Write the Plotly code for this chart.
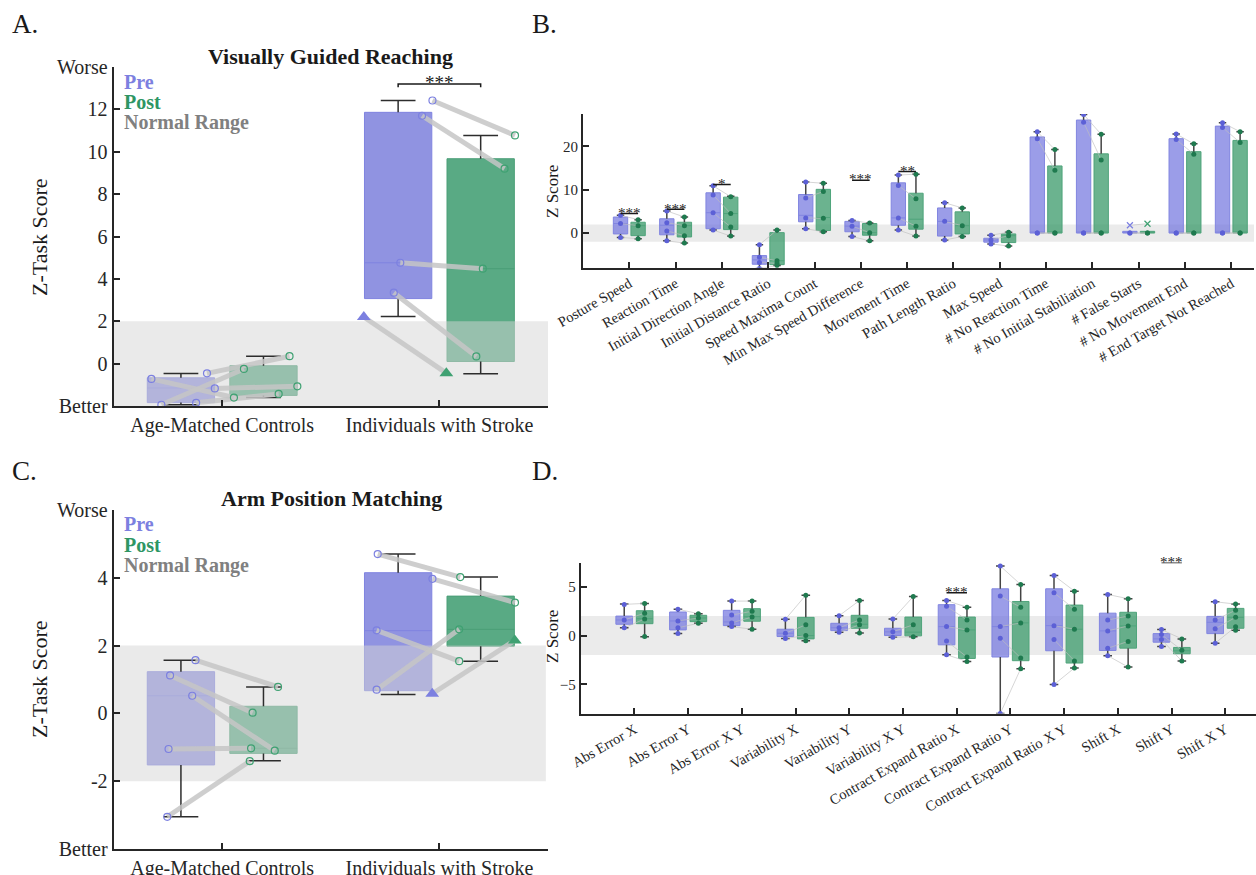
import plotly.graph_objects as go

FONT = "Liberation Serif, Times New Roman, serif"
W, H = 1256, 875

# ---------------- Panel A: Visually Guided Reaching ----------------
groups = ["Age-Matched Controls", "Individuals with Stroke"]
# box statistics per group: [lower whisker, q1, median, q3, upper whisker]
vgr_pre_stats = [[-1.94, -1.84, -1.15, -0.67, -0.47], [2.23, 3.07, 4.76, 11.86, 12.42]]
vgr_post_stats = [[-1.60, -1.50, -1.07, -0.10, 0.35], [-0.48, 0.10, 4.48, 9.67, 10.77]]
# individual participants (pre -> post), with horizontal jitter
vgr_ctrl_jitter = [-0.136, 0.12, 0.156, -0.09, 0.07]
vgr_ctrl_pre = [-0.72, -0.46, -1.17, -1.94, -1.85]
vgr_ctrl_post = [-1.60, 0.35, -1.07, -0.25, -1.43]
vgr_stroke_jitter = [0.158, 0.11, 0.01, -0.02, -0.158]
vgr_stroke_pre = [12.42, 11.70, 4.76, 3.35, 2.20]
vgr_stroke_post = [10.77, 9.20, 4.48, 0.34, -0.45]
vgr_stroke_flag = [False, False, False, False, True]
vgr_ticks = [-2, 0, 2, 4, 6, 8, 10, 12, 14]
vgr_ticktext = ["Better", "0", "2", "4", "6", "8", "10", "12", "Worse"]

# ---------------- Panel C: Arm Position Matching ----------------
apm_pre_stats = [[-3.05, -1.52, 0.52, 1.23, 1.57], [0.56, 0.67, 2.44, 4.15, 4.70]]
apm_post_stats = [[-1.40, -1.18, -1.03, 0.21, 0.78], [1.54, 1.98, 2.48, 3.46, 4.02]]
apm_ctrl_jitter = [0.067, -0.05, 0.052, -0.057, -0.063]
apm_ctrl_pre = [1.57, 1.12, 0.52, -1.05, -3.05]
apm_ctrl_post = [0.78, 0.02, -1.10, -1.03, -1.41]
apm_stroke_jitter = [-0.094, 0.158, -0.099, -0.099, 0.157]
apm_stroke_pre = [4.70, 3.97, 2.45, 0.70, 0.58]
apm_stroke_post = [4.02, 3.27, 1.54, 2.48, 2.15]
apm_stroke_flag = [False, False, False, False, True]
apm_ticks = [-4, -2, 0, 2, 4, 6]
apm_ticktext = ["Better", "-2", "0", "2", "4", "Worse"]

# ---------------- Panel B: reaching parameters ----------------
b_labels = ["Posture Speed", "Reaction Time", "Initial Direction Angle", "Initial Distance Ratio",
            "Speed Maxima Count", "Min Max Speed Difference", "Movement Time", "Path Length Ratio",
            "Max Speed", "# No Reaction Time", "# No Initial Stabiliation", "# False Starts",
            "# No Movement End", "# End Target Not Reached"]
b_pre_stats = [[-1.0, -0.2, 2.2, 3.7, 4.1], [-1.8, -0.4, 1.8, 3.3, 5.1], [0.7, 1.0, 4.7, 9.3, 10.9],
               [-8.2, -7.2, -6.2, -5.2, -2.7], [1.0, 2.6, 4.1, 8.9, 11.8], [-0.8, 0.3, 1.6, 2.7, 2.9],
               [0.7, 1.8, 3.5, 11.6, 13.4], [-1.6, -0.7, 2.7, 5.8, 7.0], [-2.5, -2.1, -1.6, -1.2, -0.5],
               [0, 0, 0, 22.2, 23.4], [0, 0, 0, 26.1, 27.4], [0, 0, 0, 0.4, 0.4],
               [0, 0, 0, 21.8, 22.9], [0, 0, 0, 24.7, 25.5]]
b_post_stats = [[-1.3, -0.6, 1.7, 2.5, 3.1], [-2.3, -0.9, 1.7, 2.5, 3.7], [-0.7, 0.8, 4.5, 8.3, 8.5],
                [-7.5, -7.3, -6.4, 0.1, 0.7], [0.3, 0.6, 3.6, 10.1, 11.5], [-1.8, -0.5, 0.1, 2.2, 2.3],
                [-0.7, 0.9, 3.2, 9.2, 13.6], [-0.8, -0.2, 1.7, 4.9, 5.8], [-3.0, -2.2, -0.6, -0.2, 0.2],
                [0, 0, 0, 15.5, 19.3], [0, 0, 0, 18.3, 22.8], [0, 0, 0, 0.4, 0.4],
                [0, 0, 0, 18.8, 20.6], [0, 0, 0, 21.4, 23.4]]
b_pre_points = [[4.1, 2.2, -1.0], [5.1, 2.4, 0.5, -1.8], [10.9, 8.8, 4.7, 0.7], [-2.7, -5.6, -6.8, -8.2],
                [11.8, 8.1, 3.5, 1.0], [2.9, 1.6, -0.8], [13.4, 11.0, 3.5, 0.7], [7.0, 2.7, -1.6],
                [-0.5, -1.6, -2.5], [23.4, 21.8, 0, 0], [27.4, 25.6, 0, 0], [0, 0],
                [22.9, 21.6, 0, 0], [25.5, 24.4, 0, 0]]
b_post_points = [[3.1, 1.7, -1.3], [3.7, 1.7, -0.6, -2.3], [8.4, 4.5, 1.4, -0.7], [0.7, -6.4, -7.0, -7.5],
                 [11.5, 9.6, 3.4, 0.3], [2.3, 0.1, -1.8], [13.6, 7.9, 1.6, -0.7], [5.8, 1.7, -0.8],
                 [0.2, -0.6, -3.0], [19.3, 14.5, 0, 0], [22.8, 16.9, 0, 0], [0, 0],
                 [20.6, 18.2, 0, 0], [23.4, 20.9, 0, 0]]
b_outlier_cat = 12
b_outlier_pre = 1.8
b_outlier_post = 2.15
b_sig_cats = [1, 2, 3, 6, 7]
b_sig_text = ["***", "***", "*", "***", "**"]
b_sig_y = [4.5, 5.5, 11.2, 12.2, 14.2]

# ---------------- Panel D: position matching parameters ----------------
d_labels = ["Abs Error X", "Abs Error Y", "Abs Error X Y", "Variability X", "Variability Y",
            "Variability X Y", "Contract Expand Ratio X", "Contract Expand Ratio Y",
            "Contract Expand Ratio X Y", "Shift X", "Shift Y", "Shift X Y"]
d_pre_stats = [[0.79, 1.16, 1.6, 2.0, 3.23], [0.2, 0.58, 1.5, 2.42, 2.69], [0.92, 1.02, 1.4, 2.59, 3.54],
               [-0.3, -0.1, 0.24, 0.65, 1.67], [0.34, 0.51, 0.8, 1.26, 2.04], [-0.17, 0.0, 0.38, 0.75, 1.7],
               [-1.97, -0.95, 0.92, 3.17, 3.6], [-8.0, -2.2, 0.92, 4.8, 7.14], [-5.03, -1.56, 1.02, 4.8, 6.16],
               [-2.07, -1.53, 0.48, 2.3, 4.22], [-1.12, -0.68, -0.34, 0.2, 0.61], [-0.78, 0.2, 1.36, 1.97, 3.47]]
d_post_stats = [[-0.13, 1.22, 1.73, 2.55, 3.3], [1.26, 1.43, 1.8, 2.08, 2.25], [0.65, 1.47, 1.94, 2.76, 3.54],
                [-0.54, -0.34, 0.0, 1.87, 4.15], [0.27, 0.75, 1.16, 2.08, 3.6], [-0.13, -0.03, 0.35, 1.9, 4.0],
                [-2.65, -2.35, 0.58, 1.9, 2.9], [-3.4, -2.58, 1.3, 3.5, 5.24], [-3.33, -2.82, 0.65, 3.13, 4.56],
                [-3.23, -1.29, 0.99, 2.39, 3.78], [-2.62, -1.87, -1.56, -1.22, -0.34], [0.55, 0.75, 1.87, 2.79, 3.23]]
d_pre_points = [[3.2, 1.6, 0.8], [2.7, 1.5, 0.8, 0.2], [3.54, 2.1, 1.3, 0.92], [1.67, 0.24, -0.3],
                [2.04, 0.8, 0.34], [1.7, 0.4, -0.17], [3.6, 3.0, 0.92, -0.57, -1.97],
                [7.14, 4.05, 0.92, -0.27, -8.0], [6.16, 4.4, 1.02, -0.4, -5.03],
                [4.22, 1.6, 0.48, -1.3, -2.07], [0.61, 0.1, -0.4, -1.12], [3.47, 1.6, 0.7, -0.78]]
d_post_points = [[3.3, 2.3, 1.7, -0.1], [2.25, 1.8, 1.26], [3.54, 2.5, 1.9, 0.65], [4.15, 1.1, 0.0, -0.54],
                 [3.6, 1.6, 1.1, 0.27], [4.0, 1.1, -0.13], [2.9, 1.6, 0.58, -2.2, -2.65],
                 [5.24, 2.9, 1.3, -2.3, -3.4], [4.56, 2.7, 0.65, -2.6, -3.33],
                 [3.78, 2.0, 0.99, -0.6, -3.23], [-0.34, -1.5, -2.62], [3.23, 2.6, 1.87, 0.9, 0.55]]
d_sig_cats = [7, 11]
d_sig_text = ["***", "***"]
d_sig_y = [4.4, 7.5]

# ---------------- styling ----------------
OFFSET = 0.19      # pre / post shift from the category centre
BOX_W = 0.31
CAP = 0.08
AXIS_COLOR = "#262626"
PRE_TXT = "#7C80E0"
POST_TXT = "#2E9664"
AC_PRE_FILL, AC_PRE_EDGE = "rgba(124,128,220,0.85)", "#7F83E0"
AC_POST_FILL, AC_POST_EDGE = "rgba(60,155,110,0.85)", "#4A9E76"
BD_PRE_FILL, BD_PRE_EDGE = "rgba(112,116,222,0.7)", "#8185E0"
BD_POST_FILL, BD_POST_EDGE = "rgba(50,150,100,0.72)", "#4FA47B"

fig = go.Figure()


def add_boxes(ax, positions, stats, fill, edge):
    lo, q1, med, q3, hi = zip(*stats)
    fig.add_trace(go.Box(
        x=list(positions), q1=list(q1), median=list(med), q3=list(q3),
        lowerfence=list(q1), upperfence=list(q3), width=BOX_W, whiskerwidth=0,
        fillcolor=fill, line=dict(color=edge, width=1), boxpoints=False,
        xaxis="x" + ax, yaxis="y" + ax, showlegend=False, hoverinfo="skip"))


def add_whiskers(ax, positions, stats, color, width):
    xs, ys = [], []
    for p, (lo, q1, med, q3, hi) in zip(positions, stats):
        if hi > q3:
            xs += [p, p, None, p - CAP, p + CAP, None]
            ys += [q3, hi, None, hi, hi, None]
        if lo < q1:
            xs += [p, p, None, p - CAP, p + CAP, None]
            ys += [q1, lo, None, lo, lo, None]
    fig.add_trace(go.Scatter(x=xs, y=ys, mode="lines", line=dict(color=color, width=width),
                             xaxis="x" + ax, yaxis="y" + ax, showlegend=False, hoverinfo="skip"))


def add_band(ax, x0, x1):
    fig.add_trace(go.Scatter(x=[x0, x1, x1, x0, x0], y=[-2, -2, 2, 2, -2], mode="lines",
                             fill="toself", fillcolor="rgba(213,213,213,0.5)", line=dict(width=0),
                             xaxis="x" + ax, yaxis="y" + ax, showlegend=False, hoverinfo="skip"))


def add_subjects(ax, cat, jitter, pre, post, flags):
    xp = [cat - OFFSET + j for j in jitter]
    xq = [cat + OFFSET + j for j in jitter]
    lx, ly = [], []
    for a, b, u, v in zip(xp, xq, pre, post):
        lx += [a, b, None]
        ly += [u, v, None]
    fig.add_trace(go.Scatter(x=lx, y=ly, mode="lines", line=dict(color="rgba(198,198,198,0.85)", width=5),
                             xaxis="x" + ax, yaxis="y" + ax, showlegend=False, hoverinfo="skip"))
    for xs, ys, col in ((xp, pre, PRE_TXT), (xq, post, "#3FA172")):
        cx = [x for x, f in zip(xs, flags) if not f]
        cy = [y for y, f in zip(ys, flags) if not f]
        tx = [x for x, f in zip(xs, flags) if f]
        ty = [y for y, f in zip(ys, flags) if f]
        fig.add_trace(go.Scatter(x=cx, y=cy, mode="markers",
                                 marker=dict(symbol="circle-open", size=7, color=col, line=dict(width=1.2)),
                                 xaxis="x" + ax, yaxis="y" + ax, showlegend=False, hoverinfo="skip"))
        if tx:
            fig.add_trace(go.Scatter(x=tx, y=ty, mode="markers",
                                     marker=dict(symbol="triangle-up", size=12, color=col),
                                     xaxis="x" + ax, yaxis="y" + ax, showlegend=False, hoverinfo="skip"))


def add_points(ax, pre_pos, post_pos, pre_pts, post_pts):
    lx, ly = [], []
    for a, b, u, v in zip(pre_pos, post_pos, pre_pts, post_pts):
        for p, q in zip(u, v):
            lx += [a, b, None]
            ly += [p, q, None]
    fig.add_trace(go.Scatter(x=lx, y=ly, mode="lines", line=dict(color="rgba(190,190,190,0.8)", width=0.8),
                             xaxis="x" + ax, yaxis="y" + ax, showlegend=False, hoverinfo="skip"))
    for pos, pts, col in ((pre_pos, pre_pts, "#5C60D6"), (post_pos, post_pts, "#1F7A4F")):
        xs, ys = [], []
        for p, vals in zip(pos, pts):
            xs += [p] * len(vals)
            ys += vals
        fig.add_trace(go.Scatter(x=xs, y=ys, mode="markers", marker=dict(size=5, color=col),
                                 xaxis="x" + ax, yaxis="y" + ax, showlegend=False, hoverinfo="skip"))


annotations = []


def ann(text, px, py, size, color="#1a1a1a", bold=False, xanchor="center", yanchor="middle", angle=0):
    annotations.append(dict(
        text=f"<b>{text}</b>" if bold else text, x=px / W, y=1 - py / H, xref="paper", yref="paper",
        xanchor=xanchor, yanchor=yanchor, showarrow=False, textangle=angle,
        font=dict(family=FONT, size=size, color=color)))


def add_sig(ax, cats, texts, ys, size, ticks):
    for c, t, y in zip(cats, texts, ys):
        a, b = c - OFFSET, c + OFFSET
        if ticks:
            xs, yv = [a, a, b, b], [y - ticks, y, y, y - ticks]
        else:
            xs, yv = [a, b], [y, y]
        fig.add_trace(go.Scatter(x=xs, y=yv, mode="lines", line=dict(color="#1a1a1a", width=1.5),
                                 xaxis="x" + ax, yaxis="y" + ax, showlegend=False, hoverinfo="skip"))
        annotations.append(dict(text=t, x=c, y=y, xref="x" + ax, yref="y" + ax, xanchor="center",
                                yanchor="middle", yshift=size * 0.05, showarrow=False,
                                font=dict(family=FONT, size=size, color="#1a1a1a")))


# ---- Panel A ----
cats2 = [1, 2]
pre2 = [c - OFFSET for c in cats2]
post2 = [c + OFFSET for c in cats2]
add_boxes("", pre2, vgr_pre_stats, AC_PRE_FILL, AC_PRE_EDGE)
add_boxes("", post2, vgr_post_stats, AC_POST_FILL, AC_POST_EDGE)
add_band("", 0.5, 2.5)
add_whiskers("", pre2, vgr_pre_stats, "#2d2d2d", 1.5)
add_whiskers("", post2, vgr_post_stats, "#2d2d2d", 1.5)
add_subjects("", 1, vgr_ctrl_jitter, vgr_ctrl_pre, vgr_ctrl_post, [False] * 5)
add_subjects("", 2, vgr_stroke_jitter, vgr_stroke_pre, vgr_stroke_post, vgr_stroke_flag)
add_sig("", [2], ["***"], [13.2], 19, 0.15)

# ---- Panel C ----
add_boxes("3", pre2, apm_pre_stats, AC_PRE_FILL, AC_PRE_EDGE)
add_boxes("3", post2, apm_post_stats, AC_POST_FILL, AC_POST_EDGE)
add_band("3", 0.5, 2.49)
add_whiskers("3", pre2, apm_pre_stats, "#2d2d2d", 1.5)
add_whiskers("3", post2, apm_post_stats, "#2d2d2d", 1.5)
add_subjects("3", 1, apm_ctrl_jitter, apm_ctrl_pre, apm_ctrl_post, [False] * 5)
add_subjects("3", 2, apm_stroke_jitter, apm_stroke_pre, apm_stroke_post, apm_stroke_flag)

# ---- Panel B ----
cb = list(range(1, len(b_labels) + 1))
b_pre_pos = [c - OFFSET for c in cb]
b_post_pos = [c + OFFSET for c in cb]
add_boxes("2", b_pre_pos, b_pre_stats, BD_PRE_FILL, BD_PRE_EDGE)
add_boxes("2", b_post_pos, b_post_stats, BD_POST_FILL, BD_POST_EDGE)
add_whiskers("2", b_pre_pos, b_pre_stats, "#444444", 1.5)
add_whiskers("2", b_post_pos, b_post_stats, "#444444", 1.5)
add_points("2", b_pre_pos, b_post_pos, b_pre_points, b_post_points)
fig.add_trace(go.Scatter(x=[b_outlier_cat - OFFSET, b_outlier_cat + OFFSET], y=[b_outlier_pre, b_outlier_post],
                         mode="lines", line=dict(color="rgba(190,190,190,0.8)", width=0.8),
                         xaxis="x2", yaxis="y2", showlegend=False, hoverinfo="skip"))
fig.add_trace(go.Scatter(x=[b_outlier_cat - OFFSET, b_outlier_cat + OFFSET], y=[b_outlier_pre, b_outlier_post],
                         mode="markers", marker=dict(symbol="x-thin", size=6, line=dict(width=1.2,
                                                     color=["#7C80E0", "#3FA172"])),
                         xaxis="x2", yaxis="y2", showlegend=False, hoverinfo="skip"))
add_sig("2", b_sig_cats, b_sig_text, b_sig_y, 15, 0)

# ---- Panel D ----
cd = list(range(1, len(d_labels) + 1))
d_pre_pos = [c - OFFSET for c in cd]
d_post_pos = [c + OFFSET for c in cd]
add_boxes("4", d_pre_pos, d_pre_stats, BD_PRE_FILL, BD_PRE_EDGE)
add_boxes("4", d_post_pos, d_post_stats, BD_POST_FILL, BD_POST_EDGE)
add_whiskers("4", d_pre_pos, d_pre_stats, "#444444", 1.5)
add_whiskers("4", d_post_pos, d_post_stats, "#444444", 1.5)
add_points("4", d_pre_pos, d_post_pos, d_pre_points, d_post_points)
add_sig("4", d_sig_cats, d_sig_text, d_sig_y, 15, 0)

# normal range bands beneath the parameter panels
shapes = []
for ax in ("2", "4"):
    shapes.append(dict(type="rect", xref=f"x{ax} domain", yref=f"y{ax}", x0=0, x1=1, y0=-2, y1=2,
                       fillcolor="#EBEBEB", line=dict(width=0), layer="below"))

# ---- text ----
ann("A.", 10, 24, 27, xanchor="left")
ann("B.", 530, 24, 27, xanchor="left")
ann("C.", 10, 471, 27, xanchor="left")
ann("D.", 530, 471, 27, xanchor="left")
ann("Visually Guided Reaching", 330, 56, 22, bold=True)
ann("Arm Position Matching", 331, 498, 22, bold=True)
for yy, lab, col in ((82, "Pre", PRE_TXT), (102.5, "Post", POST_TXT), (122, "Normal Range", "#808080")):
    ann(lab, 122, yy, 20, color=col, bold=True, xanchor="left")
for yy, lab, col in ((524, "Pre", PRE_TXT), (544.5, "Post", POST_TXT), (565, "Normal Range", "#808080")):
    ann(lab, 122, yy, 20, color=col, bold=True, xanchor="left")
ann("Z-Task Score", 39, 237, 22, angle=-90)
ann("Z-Task Score", 39, 679, 22, angle=-90)
ann("Z Score", 552, 192, 17, angle=-90)
ann("Z Score", 552, 637, 17, angle=-90)

axis_common = dict(showline=True, linewidth=2, linecolor=AXIS_COLOR, ticks="inside", tickwidth=1.5,
                   tickcolor=AXIS_COLOR, showgrid=False, zeroline=False, mirror=False, automargin=False)


def dom_x(a, b):
    return [a / W, b / W]


def dom_y(top, bottom):
    return [1 - bottom / H, 1 - top / H]


fig.update_layout(
    width=W, height=H, margin=dict(l=0, r=0, t=0, b=0),
    paper_bgcolor="white", plot_bgcolor="rgba(0,0,0,0)", showlegend=False,
    font=dict(family=FONT, color=AXIS_COLOR),
    boxmode="overlay",
    xaxis=dict(domain=dom_x(113.6, 548), range=[0.5, 2.5], tickvals=cats2, ticktext=groups,
               tickfont=dict(size=20), ticklen=6, anchor="y", **axis_common),
    yaxis=dict(domain=dom_y(67, 406), range=[-2, 14], tickvals=vgr_ticks, ticktext=vgr_ticktext,
               tickfont=dict(size=20), ticklen=6, anchor="x", **axis_common),
    xaxis3=dict(domain=dom_x(113.6, 548), range=[0.5, 2.5], tickvals=cats2, ticktext=groups,
                tickfont=dict(size=20), ticklen=6, anchor="y3", **axis_common),
    yaxis3=dict(domain=dom_y(510, 849), range=[-4, 6], tickvals=apm_ticks, ticktext=apm_ticktext,
                tickfont=dict(size=20), ticklen=6, anchor="x3", **axis_common),
    xaxis2=dict(domain=dom_x(583, 1254), range=[0, 14.49], tickvals=cb, ticktext=b_labels, tickangle=-30,
                tickfont=dict(size=14.5), ticklen=6, anchor="y2", **axis_common),
    yaxis2=dict(domain=dom_y(114, 267.7), range=[-8, 27.5], tickvals=[0, 10, 20],
                tickfont=dict(size=15), ticklen=6, anchor="x2", **axis_common),
    xaxis4=dict(domain=dom_x(580.7, 1256), range=[0, 12.57], tickvals=cd, ticktext=d_labels, tickangle=-30,
                tickfont=dict(size=14.5), ticklen=6, anchor="y4", **axis_common),
    yaxis4=dict(domain=dom_y(562.5, 713.5), range=[-8, 7.5], tickvals=[-5, 0, 5],
                tickfont=dict(size=15), ticklen=6, anchor="x4", **axis_common),
    annotations=annotations,
    shapes=shapes,
)

fig.write_html("out.html")
